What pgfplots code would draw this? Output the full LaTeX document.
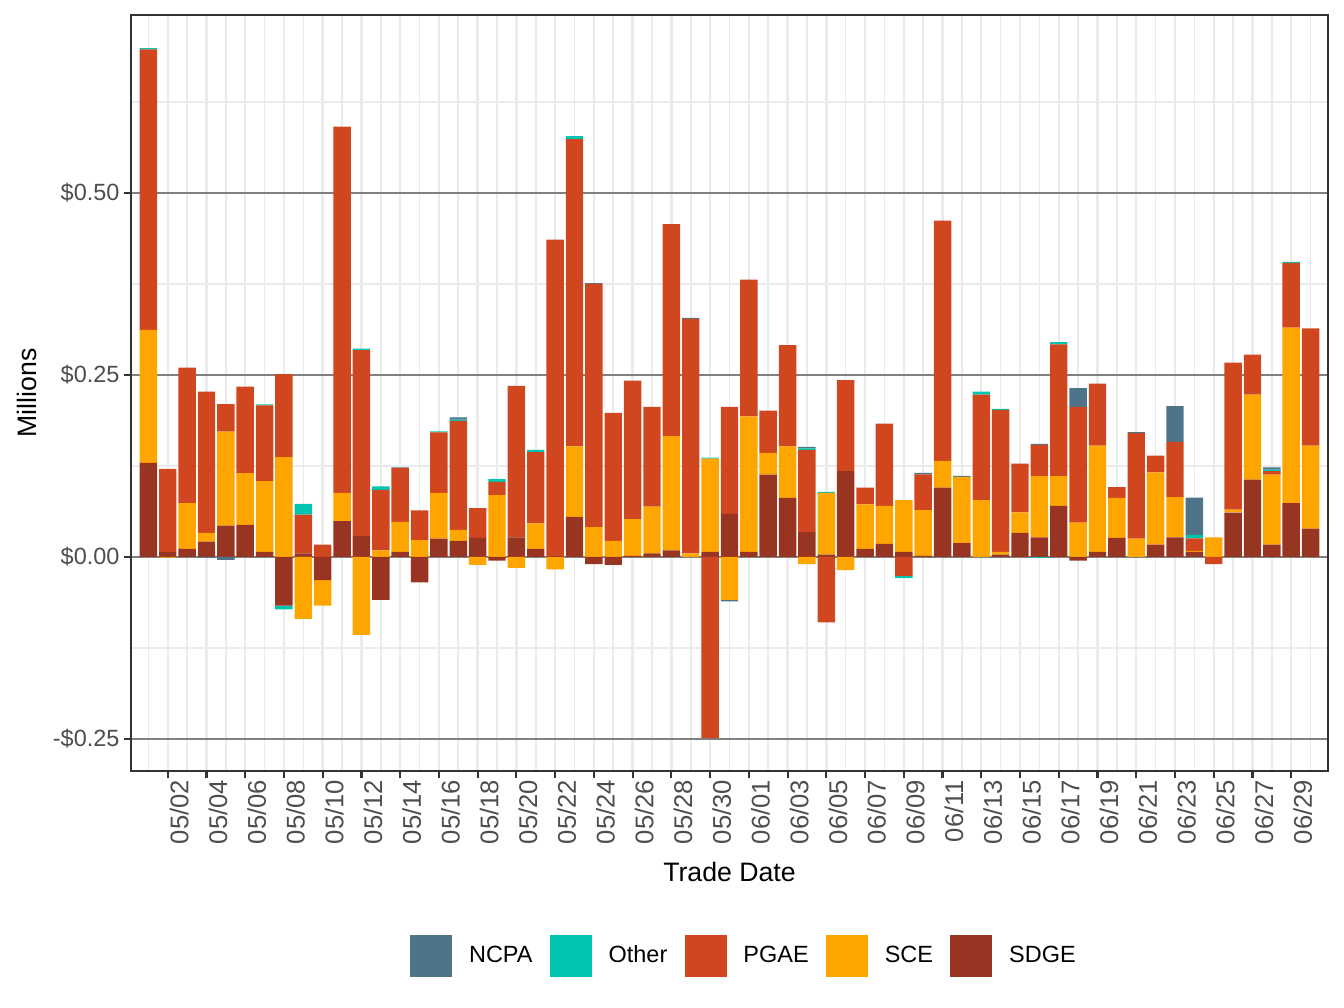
\documentclass[border=0pt]{standalone}
\usepackage{pgfplots}
\pgfplotsset{compat=1.18}
\usepackage{pgfplotstable}
\usepackage{fontspec}
\setmainfont{Liberation Sans}

\definecolor{ncpa}{HTML}{4E7489}
\definecolor{other}{HTML}{00C4B0}
\definecolor{pgae}{HTML}{D0461F}
\definecolor{sce}{HTML}{FFA500}
\definecolor{sdge}{HTML}{983522}
\definecolor{tickgray}{HTML}{4D4D4D}
\definecolor{gridlight}{HTML}{EBEBEB}

% positive parts (stacked up from zero)
\pgfplotstableread{
day SDGE SCE PGAE Other NCPA
1 0.129 0.183 0.385 0.002 0
2 0.007 0 0.114 0 0
3 0.011 0.063 0.186 0 0
4 0.021 0.012 0.194 0 0
5 0.043 0.129 0.038 0 0
6 0.044 0.071 0.119 0 0
7 0.007 0.097 0.104 0.0015 0
8 0 0.137 0.114 0 0
9 0.005 0 0.053 0.015 0
10 0 0 0.017 0 0
11 0.049 0.039 0.503 0 0
12 0.029 0 0.255 0.002 0
13 0 0.009 0.083 0.005 0
14 0.007 0.041 0.074 0 0.001
15 0 0.023 0.041 0 0
16 0.025 0.063 0.083 0.0015 0
17 0.022 0.015 0.150 0.0015 0.003
18 0.026 0 0.041 0 0
19 0 0.085 0.018 0.004 0
20 0.027 0 0.208 0 0
21 0.011 0.035 0.098 0.003 0
22 0.001 0 0.435 0 0
23 0.055 0.097 0.422 0.004 0
24 0 0.041 0.334 0 0.001
25 0 0.022 0.176 0 0
26 0.0015 0.0505 0.190 0 0
27 0.005 0.064 0.137 0 0
28 0.009 0.157 0.291 0 0
29 0 0.005 0.322 0 0.0015
30 0.007 0.128 0 0.0015 0
31 0.059 0 0.147 0 0
32 0.007 0.186 0.188 0 0
33 0.113 0.030 0.058 0 0
34 0.081 0.071 0.139 0 0
35 0.034 0 0.113 0.002 0.002
36 0.003 0.085 0 0.0015 0
37 0.118 0 0.125 0 0
38 0.011 0.061 0.023 0 0
39 0.018 0.052 0.113 0 0
40 0.007 0.071 0 0 0
41 0.0013 0.063 0.049 0 0.002
42 0.095 0.037 0.330 0 0
43 0.019 0.091 0 0 0.0013
44 0 0.078 0.145 0.004 0
45 0.003 0.004 0.195 0.0013 0
46 0.033 0.028 0.067 0 0
47 0.027 0.084 0.043 0 0.0013
48 0.070 0.041 0.181 0.003 0
49 0 0.047 0.159 0 0.026
50 0.007 0.146 0.085 0 0
51 0.026 0.055 0.015 0 0
52 0 0.025 0.145 0 0.0013
53 0.017 0.099 0.023 0 0
54 0.027 0.055 0.076 0 0.049
55 0.007 0.0013 0.017 0.005 0.051
56 0 0.027 0 0 0
57 0.061 0.004 0.202 0 0
58 0.106 0.117 0.055 0 0
59 0.017 0.096 0.005 0.002 0.003
60 0.074 0.241 0.089 0.0013 0
61 0.039 0.114 0.161 0 0
}\pos

% negative parts (stacked down from zero)
\pgfplotstableread{
day SDGE SCE PGAE Other NCPA
2 0 -0.001 0 0 0
4 0 0 0 0 -0.001
5 0 0 0 0 -0.004
8 -0.067 0 0 -0.005 0
9 0 -0.085 0 0 0
10 -0.032 -0.035 0 0 0
12 0 -0.107 0 0 0
13 -0.059 0 0 0 0
15 -0.035 0 0 0 0
18 0 -0.011 0 0 0
19 -0.005 0 0 0 0
20 0 -0.015 0 0 0
22 0 -0.017 0 0 0
24 -0.010 0 0 0 0
25 -0.011 0 0 0 0
30 0 0 -0.249 0 0
31 0 -0.059 0 0 -0.002
35 0 -0.010 0 0 0
36 0 0 -0.090 0 0
37 0 -0.018 0 0 0
40 0 0 -0.026 -0.003 0
47 0 0 0 -0.001 0
49 -0.005 0 0 0 0
56 0 0 -0.010 0 0
}\neg

\pgfplotsset{
  trade/.style={
    width=448.9pt, height=283.5pt, scale only axis,
    xmin=0.1, xmax=61.9, ymin=-0.294, ymax=0.7445,
    enlargelimits=false,
    ybar stacked, bar width=0.9,
  },
  keysq/.style={legend image code/.code={\fill[##1] (0pt,-7.875pt) rectangle (15.75pt,7.875pt);}},
}

\begin{document}
\begin{tikzpicture}
\begin{axis}[
    trade,
    name=main,
    axis line style={draw=black!80, line width=0.8pt},
    xtick={2,4,...,60},
    xticklabels={05/02,05/04,05/06,05/08,05/10,05/12,05/14,05/16,05/18,05/20,
                 05/22,05/24,05/26,05/28,05/30,06/01,06/03,06/05,06/07,06/09,
                 06/11,06/13,06/15,06/17,06/19,06/21,06/23,06/25,06/27,06/29},
    minor xtick={1,3,...,61},
    ytick={-0.25,0,0.25,0.5},
    yticklabels={-\$0.25,\$0.00,\$0.25,\$0.50},
    minor ytick={-0.125,0.125,0.375,0.625},
    xmajorgrids, xminorgrids, ymajorgrids, yminorgrids,
    major x grid style={gridlight, line width=0.9pt},
    minor x grid style={gridlight, line width=0.6pt},
    major y grid style={black!50, line width=0.5pt},
    minor y grid style={gridlight, line width=0.6pt},
    xtick pos=bottom, ytick pos=left,
    tick align=outside,
    major tick length=2.6pt, minor tick length=0pt,
    tick style={black!80, line width=0.8pt},
    ticklabel style={font=\fontsize{8.8}{10}\selectfont, text=tickgray},
    xticklabel style={rotate=90, anchor=north east, inner sep=0.6pt,
      font=\fontsize{9.6}{11}\selectfont},
    yticklabel style={inner sep=1.5pt},
    label style={font=\fontsize{11}{13}\selectfont},
    xlabel={Trade Date},
    ylabel={Millions},
    every axis x label/.style={at={(axis description cs:0.5,-0.1337)}, anchor=center},
    every axis y label/.style={at={(axis description cs:-0.0869,0.5)}, rotate=90, anchor=center},
    reverse legend,
    legend columns=5,
    legend style={at={(axis description cs:0.5113,-0.2447)}, anchor=center, draw=none,
      font=\fontsize{8.8}{10}\selectfont,
      nodes={inner sep=0pt},
      /tikz/every odd column/.append style={column sep=6.3pt},
      /tikz/every even column/.append style={column sep=6.5pt}},
  ]
  \addplot[fill=sdge, draw=none, keysq] table[x=day, y=SDGE] {\pos};
  \addlegendentry{SDGE}
  \addplot[fill=sce, draw=none, keysq] table[x=day, y=SCE] {\pos};
  \addlegendentry{SCE}
  \addplot[fill=pgae, draw=none, keysq] table[x=day, y=PGAE] {\pos};
  \addlegendentry{PGAE}
  \addplot[fill=other, draw=none, keysq] table[x=day, y=Other] {\pos};
  \addlegendentry{Other}
  \addplot[fill=ncpa, draw=none, keysq] table[x=day, y=NCPA] {\pos};
  \addlegendentry{NCPA}
\end{axis}
\begin{axis}[trade, at={(main.south west)}, anchor=south west, hide axis]
  \addplot[fill=sdge, draw=none] table[x=day, y=SDGE] {\neg};
  \addplot[fill=sce, draw=none] table[x=day, y=SCE] {\neg};
  \addplot[fill=pgae, draw=none] table[x=day, y=PGAE] {\neg};
  \addplot[fill=other, draw=none] table[x=day, y=Other] {\neg};
  \addplot[fill=ncpa, draw=none] table[x=day, y=NCPA] {\neg};
\end{axis}
\path ([xshift=-49.1pt,yshift=-88.9pt]main.south west) rectangle ([xshift=6pt,yshift=5.6pt]main.north east);
\end{tikzpicture}
\end{document}
